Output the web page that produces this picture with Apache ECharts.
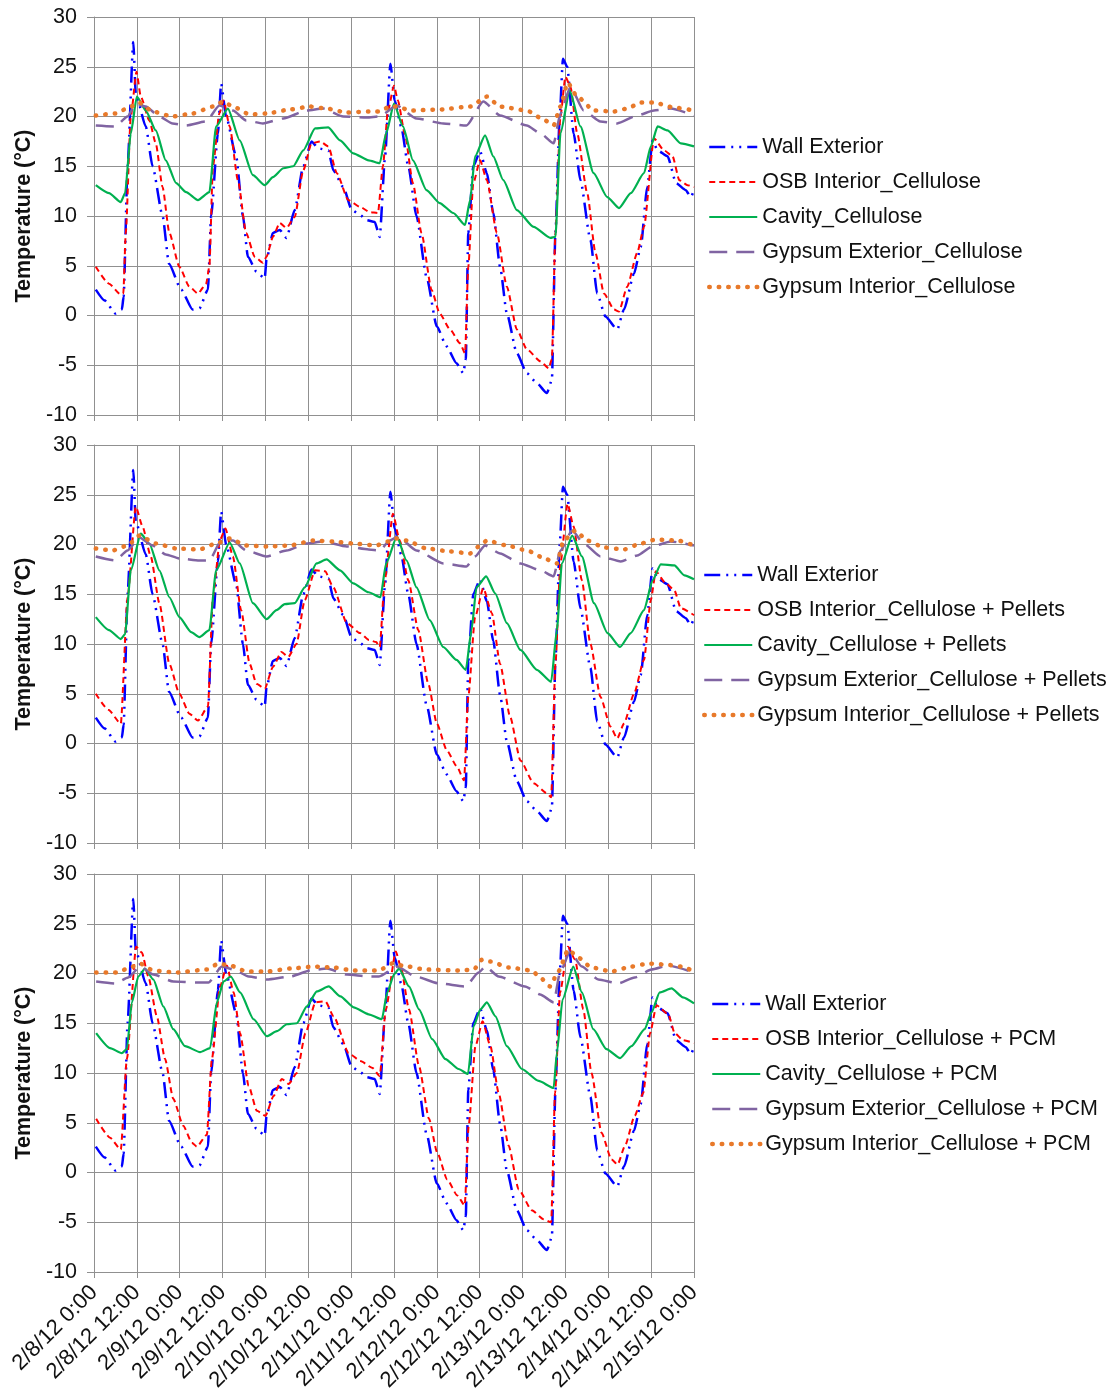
<!DOCTYPE html>
<html>
<head>
<meta charset="utf-8">
<title>Wall temperatures</title>
<script src="https://cdn.jsdelivr.net/npm/echarts@6/dist/echarts.min.js"></script>
<style>
    html, body { margin: 0; padding: 0; background: #fff; }
    #main { width: 1115px; height: 1395px; }
</style>
</head>
<body>
<div id="main"></div>
<script>
// x = hours since 2/8/12 0:00, tick every 12 h
var tickLabels = ['2/8/12 0:00', '2/8/12 12:00', '2/9/12 0:00', '2/9/12 12:00', '2/10/12 0:00',
    '2/10/12 12:00', '2/11/12 0:00', '2/11/12 12:00', '2/12/12 0:00', '2/12/12 12:00',
    '2/13/12 0:00', '2/13/12 12:00', '2/14/12 0:00', '2/14/12 12:00', '2/15/12 0:00'];

// same outdoor surface curve in all three panels
var wallExterior = [[0.5,2.6],[3,1.5],[6,0.2],[7.8,0.6],[8.3,1.9],[9.4,15],[11,27.5],[11.7,22.3],[14.5,19],[16.4,15],[19.2,10],[21,5.2],[24.4,2.6],[27.6,0.6],[29.5,0.7],[31.9,2.6],[32.8,10],[34.7,18.3],[35.6,23.3],[37,20],[39.8,16],[41.7,10],[43.1,5.9],[45.5,4.4],[47.8,3.7],[48.3,5.6],[50.1,8.3],[52,8.6],[53.9,7.8],[56.2,10.6],[58.6,15],[60.9,17.5],[62.8,16.8],[65.6,16.6],[67,14.6],[69.8,12.9],[72.2,10.6],[74.5,10.1],[76.2,9.6],[78.6,9.4],[80,7.9],[81.5,16],[83,25.3],[84.2,21.6],[86,19],[88,15],[90.3,10],[93.1,3.9],[96,-1.1],[98.7,-3.1],[101.5,-4.8],[103.4,-5.8],[104.1,-4.4],[104.8,8.3],[106.2,15],[108.1,16.5],[110,14.3],[111.8,10.3],[113.7,4.9],[115.6,0.2],[118.4,-3.8],[121.2,-5.8],[124,-6.8],[126.8,-7.8],[128.2,-6.5],[129.2,8.3],[130.4,20],[131.3,25.8],[132.5,25],[134.3,18.3],[136.2,13.6],[139,7.6],[140.9,2.2],[143.2,-0.1],[146.5,-1.4],[148.4,0.6],[151.2,4.2],[153.1,6.9],[154.9,12.9],[156.4,17.6],[157.8,16.6],[160.6,16],[163,13.3],[165.7,12.6],[167.1,11.9],[168,12.6]];

// panel 1: cellulose
var osbCell = [[0.5,4.9],[4.2,3.2],[7.5,2.1],[8.2,2.2],[8.9,8.3],[10.3,20],[11.9,24.5],[13.1,22],[15.5,19.6],[17.3,17.3],[19.2,12.9],[21.1,8.3],[23.9,4.9],[26.7,2.9],[29.1,2.2],[31.4,3.2],[32.3,4.9],[33.3,15],[35.1,20.3],[36.3,21.6],[38,19],[40.3,13.6],[42.6,8.3],[45,5.9],[47.3,5.3],[48.3,5.9],[50.1,7.9],[52,9.3],[53.9,8.8],[56.2,9.9],[58.6,14.6],[60.9,17.3],[63.3,17.5],[65.6,17],[68,14.3],[71.2,11.6],[74.5,10.9],[77.2,10.4],[79.5,10.3],[80.9,15],[82.3,20.6],[84,23.1],[85.1,21.6],[87,18.3],[89.3,13.3],[91.7,8.3],[94.5,2.6],[96.8,0.2],[99.7,-1.4],[102.5,-2.8],[103.9,-3.8],[104.8,4.9],[106.2,13.3],[108.1,15.6],[110,13.6],[112.8,8.3],[115.6,2.9],[118.4,-1.4],[121.2,-3.4],[125,-4.6],[127.3,-5.3],[128.2,-4.4],[129.2,8.3],[130.6,20],[132,24],[133.4,23],[135.3,18.3],[138.1,12.3],[140.4,6.3],[142.8,2.2],[145.6,0.6],[147,0.4],[149.3,2.9],[152.1,6.3],[154,8.9],[156.8,17.8],[159.6,16.6],[162,16],[163.9,13.6],[166.2,13.1],[168,12.9]];
var cavCell = [[0.5,13.1],[4.2,12.3],[7.5,11.4],[8.7,12.3],[10.3,18.3],[12,22],[14.5,20.6],[17.3,18.6],[20.1,15.6],[23,13.3],[25.8,12.4],[29.1,11.6],[32.3,12.4],[34.2,19],[37.5,20.8],[40.8,17.6],[44.5,14.1],[47.8,13.1],[50.1,13.9],[53,14.8],[55.8,15],[58.6,16.6],[61.9,18.8],[65.6,18.9],[68.9,17.6],[72.6,16.3],[76.9,15.6],[80,15.3],[81.8,18.3],[84,21.3],[86.5,19],[89.3,15.6],[93.1,12.6],[96.8,11.3],[100.6,10.3],[103.9,9.1],[105.3,11.6],[106.7,16],[109.5,18.1],[111.8,16],[114.6,13.6],[118.4,10.6],[123.1,8.9],[127.8,7.8],[129.2,7.9],[130.6,18.3],[133.2,22.6],[136.2,19],[139.9,14.3],[143.7,11.9],[147,10.8],[150.3,12.3],[154,14.3],[155.9,17],[157.8,19],[160.6,18.6],[164.3,17.3],[168,17]];
var gypExtCell = [[0.5,19.1],[6,19],[9.4,20],[11.7,21.3],[14.5,21],[18.3,20],[22,19.3],[25.8,19.1],[31.4,19.5],[35.1,21.1],[38.9,20.6],[42.6,19.6],[47.3,19.3],[53,19.8],[59.5,20.6],[64.2,20.8],[69.8,20],[76.4,19.9],[80,20],[84.7,21.1],[90.3,19.8],[97.8,19.3],[104.3,19.1],[109,21.5],[113.7,20.1],[121.2,19.1],[125,18.3],[128.7,17.3],[130.6,20.3],[133.4,23],[137.1,20.6],[141.8,19.5],[146.5,19.3],[152.1,20.1],[156.8,20.6],[161.5,20.8],[168,20.1]];
var gypIntCell = [[0.5,20.1],[6,20.3],[9.8,20.9],[12.7,21.4],[16.4,20.5],[22,20],[27.6,20.3],[33.3,21],[36.1,21.5],[38.9,21],[43.6,20.2],[48.3,20.3],[54.8,20.7],[60.5,21],[65.1,20.8],[70.8,20.4],[76.9,20.5],[80,20.5],[82.8,21],[85.1,21],[88.4,20.6],[96.8,20.7],[105.3,21],[110,22],[113.7,21],[121.2,20.6],[125.4,19.8],[128.7,19.1],[130.6,21],[132.6,23.4],[135.3,22],[140,20.6],[145.6,20.5],[149.3,20.8],[153.1,21.4],[156.8,21.4],[162.4,20.9],[168,20.6]];

// panel 2: cellulose + pellets
var osbPel = [[0.5,5],[4,3.4],[7.5,2],[9.4,14.7],[11.7,23.8],[13.6,21.8],[15.9,18.8],[18.3,14.1],[21.1,8],[23.9,5],[26.7,3],[29.1,2.3],[31.9,3.7],[33.3,14.7],[35.3,20.5],[36.8,21.6],[38.9,18.8],[41.2,13.4],[43.6,8],[45.5,6],[47.8,5.5],[50.1,7.7],[52.5,9.2],[54.4,8.7],[56.7,10],[59,14.4],[61.9,17.4],[64.7,17.3],[67,15.7],[70.8,12.1],[74.5,11.1],[77,10.4],[79,10.2],[80,9.7],[81.4,16.4],[83.7,23.1],[85.6,20.4],[88,16.4],[90.8,11.4],[93.6,6],[96,2],[98.8,-0.7],[101.6,-2.3],[103.6,-3.7],[104.8,4.7],[106.7,12.7],[109,15.6],[111.4,13.1],[113.7,8],[116.5,2.7],[119.4,-1.7],[123.1,-4],[126.8,-5],[128,-5.4],[129.2,8],[130.6,18.1],[132.6,24.1],[134.3,21.8],[136.6,16.4],[139,10],[141.8,4.7],[144.6,1.7],[146.5,0.5],[148.4,2],[151.2,5],[154,8.4],[155.9,14.4],[157.3,17.3],[160.1,16.1],[162.5,15.4],[164.3,13.6],[168,12.9]];
var cavPel = [[0.5,12.7],[4.2,11.4],[7.5,10.5],[8.7,11],[10.3,17.4],[13.1,21.1],[15.5,20.1],[18.3,17.4],[21.1,14.7],[23.9,12.7],[27.2,11.2],[29.5,10.7],[32.3,11.4],[34.2,17.4],[38,20.2],[40.8,18.1],[44.5,14.1],[48.3,12.5],[51.1,13.4],[53.4,14],[56.2,14.1],[59,15.7],[62.3,18.1],[65.1,18.5],[68.9,17.4],[72.6,16.1],[76.9,15.2],[80.2,14.7],[81.8,18.1],[84.8,20.8],[87.5,18.4],[90.3,15.7],[94,12.4],[97.8,9.7],[101.5,8.4],[104.1,7.4],[105.7,11.4],[107.1,15.7],[109.8,16.8],[112.3,15.1],[115.6,12.1],[119.4,9.4],[124,7.4],[128,6.2],[129.6,11.4],[131,18.1],[133.9,20.9],[136.6,18.8],[140,14.1],[143.8,11.1],[147.3,9.7],[150.3,11.1],[154,13.4],[156.4,16.4],[158.7,18],[162.5,17.9],[165.3,16.9],[168,16.5]];
var gypExtPel = [[0.5,18.8],[6,18.4],[9.4,19.4],[12.7,20.7],[16.4,19.9],[20.1,19],[23.9,18.6],[29.5,18.4],[32.3,18.4],[35.6,20.4],[38.9,20.4],[42.6,19.4],[48.3,18.8],[53.9,19.4],[59.5,20.1],[64.2,20.3],[70.8,19.8],[76.9,19.5],[80,19.4],[82.8,20.4],[85.1,20.8],[90.3,19.4],[97.8,18.1],[104.3,17.8],[106.7,18.8],[109.5,19.9],[113.7,19.1],[119.4,18.1],[125,17.4],[128.7,16.8],[130.6,19.4],[133.9,21.4],[137.1,20.1],[141.8,18.8],[147.5,18.3],[152.1,18.9],[156.3,19.8],[161.5,20.3],[168,19.9]];
var gypIntPel = [[0.5,19.6],[5.2,19.4],[9.4,19.9],[12.7,20.9],[17.3,20.1],[23,19.6],[29.5,19.5],[34.2,20.1],[38,20.6],[42.6,19.9],[48.3,19.8],[54.8,19.9],[61.4,20.4],[67,20.3],[72.6,20.1],[79,19.9],[82.3,20.3],[84.7,20.6],[87.5,20.4],[93.1,19.6],[99.7,19.3],[105.3,19.1],[108.1,19.9],[110,20.4],[115.6,19.9],[121.2,19.4],[126.8,18.5],[129.6,18.1],[131.5,20.4],[134.8,21.4],[138.1,20.4],[142.8,19.7],[148.4,19.5],[153.1,20.1],[157.3,20.5],[163.4,20.4],[168,19.9]];

// panel 3: cellulose + PCM
var osbPcm = [[0.6,5.4],[4.5,3.5],[7.5,2.3],[9.2,11.4],[11.8,22.7],[13.4,22.1],[15.2,19.7],[17.6,15.7],[19.9,11.4],[22.2,7.4],[25,4.7],[27.4,3],[28.8,2.6],[31.6,3.8],[33,11.4],[35.3,18.7],[37.2,20.8],[39.1,18.1],[40.9,14],[43.3,8.7],[45.6,6.2],[48,5.7],[50.3,7.7],[52.6,9.4],[54.5,8.9],[56.8,10],[59.2,14],[62,17.1],[64.8,17.2],[67.1,15.7],[71.3,12],[74.6,11.2],[78,10.5],[80,9.7],[81.7,16.4],[84.5,22.2],[85.9,20.7],[88.2,16.4],[91,10.7],[93.8,5.4],[96.1,2],[98.9,-0.7],[101.7,-2.3],[103.8,-3.3],[104.9,4.7],[106.8,12.7],[108.8,15.2],[111,12.7],[113.3,8],[116.1,2.7],[118.9,-1.7],[122.6,-3.8],[125.9,-4.7],[128,-5],[129.1,8],[130.5,18.1],[132.7,22.7],[134.7,21.4],[137,16.4],[139.3,10],[142.1,4],[144.9,1.3],[146.6,0.8],[148.7,2.7],[151.4,5.7],[153.8,8],[155.7,14],[157.5,16.8],[160.8,15.9],[162.6,14],[164.9,13.3],[168,13]];
var cavPcm = [[0.6,14],[4.5,12.5],[7.8,12],[9.2,12.4],[10.6,17.1],[12.4,19.7],[14.3,20.5],[16.6,19.4],[19.4,16.7],[22.2,14.4],[25.5,12.7],[29.7,12.1],[32.5,12.5],[34.4,17.1],[36.3,19.2],[38.3,19.7],[40.9,18.1],[44.7,15.4],[48.4,13.7],[51.2,14.2],[54,14.9],[56.8,15],[59.6,16.7],[62.4,18.2],[65.7,18.7],[69,17.7],[72.7,16.6],[76.9,15.9],[80.6,15.4],[82.1,18.1],[84,19.9],[85.4,20.5],[88.2,18.7],[91,16.4],[94.7,13.4],[98.4,11.4],[102.1,10.4],[104.7,9.9],[106.3,14.7],[108.2,16.4],[110,17.1],[112.4,15.7],[115.6,12.7],[119.8,10.4],[124.5,9.2],[128.7,8.5],[129.6,12],[131.2,17.4],[134.2,20.7],[136.6,18.1],[139.8,14.4],[143.5,12.4],[147.3,11.5],[150.5,12.7],[154.2,14.4],[156.1,16.1],[158.4,18.1],[161.7,18.5],[164.9,17.6],[168,17]];
var gypExtPcm = [[0.6,19.2],[5.9,19],[9.6,19.6],[12.9,20.7],[16.6,19.9],[22.2,19.2],[28.8,19.1],[32.1,19.1],[35.8,20.7],[39.1,20.4],[43.3,19.7],[48.4,19.4],[55,19.7],[60.6,20.3],[65.2,20.5],[70.8,19.9],[76.9,19.7],[79.8,19.7],[84.9,20.7],[90,19.7],[96.7,19],[104,18.7],[107.7,20.1],[109.6,20.7],[113.3,19.7],[120.7,18.7],[124.9,17.9],[128.7,17.1],[130.5,20.1],[133.3,22.2],[136.6,20.7],[141.2,19.4],[146.8,19],[151.4,19.6],[156.1,20.4],[160.8,20.8],[168,20.1]];
var gypIntPcm = [[0.6,20.1],[6.4,20.1],[10.1,20.6],[12.9,21],[16.6,20.3],[23.2,20.1],[31.6,20.4],[34.9,21],[38.1,20.8],[42.8,20.2],[48.4,20.2],[55,20.5],[61.5,20.7],[67.1,20.6],[72.7,20.3],[79.8,20.3],[83.5,21],[86.3,20.8],[92.8,20.4],[102.1,20.3],[106.3,20.4],[108.7,21.4],[111,21.2],[116.1,20.6],[122.6,20.3],[124.9,19.6],[127.7,18.7],[130,20.2],[132.8,22.4],[135.6,21.6],[139.3,20.6],[144.9,20.2],[150.5,20.7],[155.2,21],[159.9,20.9],[164.5,20.7],[168,20.2]];

var panelNames = [
    ['Wall Exterior', 'OSB Interior_Cellulose', 'Cavity_Cellulose', 'Gypsum Exterior_Cellulose', 'Gypsum Interior_Cellulose'],
    ['Wall Exterior', 'OSB Interior_Cellulose + Pellets', 'Cavity_Cellulose + Pellets', 'Gypsum Exterior_Cellulose + Pellets', 'Gypsum Interior_Cellulose + Pellets'],
    ['Wall Exterior', 'OSB Interior_Cellulose + PCM', 'Cavity_Cellulose + PCM', 'Gypsum Exterior_Cellulose + PCM', 'Gypsum Interior_Cellulose + PCM']
];
var panelData = [
    [wallExterior, osbCell, cavCell, gypExtCell, gypIntCell],
    [wallExterior, osbPel, cavPel, gypExtPel, gypIntPel],
    [wallExterior, osbPcm, cavPcm, gypExtPcm, gypIntPcm]
];

var FONT = 'Liberation Sans, Arial, sans-serif';
var GRID_COLOR = '#909090';

// line looks, one per series position
var looks = [
    {color: '#0000FF', width: 2.5, type: [16, 6, 2, 6, 2, 6], cap: 'butt'},
    {color: '#FF0000', width: 2, type: [6, 4], cap: 'butt'},
    {color: '#00B050', width: 2.2, type: 'solid', cap: 'butt'},
    {color: '#8064A2', width: 2.5, type: [18, 9], cap: 'butt'},
    {color: '#E8792A', width: 4.5, type: [0.5, 9], cap: 'round'}
];
function lineLook(i) {
    var lk = looks[i];
    return {color: lk.color, width: lk.width, type: lk.type, cap: lk.cap};
}

var gridTops = [17, 445, 874];
var legendTops = [131, 559, 988];
var legendLefts = [702, 697, 705];

var grids = [], xAxes = [], yAxes = [], legends = [], series = [];
gridTops.forEach(function (top, p) {
    grids.push({left: 94, width: 600, top: top, height: 398, outerBoundsMode: 'none'});
    xAxes.push({
        type: 'value', gridIndex: p, min: 0, max: 168, interval: 12,
        axisLine: {show: true, onZero: false, lineStyle: {color: GRID_COLOR}},
        axisTick: {show: true, length: 6, lineStyle: {color: GRID_COLOR}},
        splitLine: {show: true, lineStyle: {color: GRID_COLOR, width: 1}},
        axisLabel: {
            show: p === 2, rotate: 45, margin: 17, fontSize: 22, color: '#111', fontFamily: FONT,
            formatter: function (v) { return tickLabels[Math.round(v / 12)]; }
        }
    });
    yAxes.push({
        type: 'value', gridIndex: p, min: -10, max: 30, interval: 5,
        name: 'Temperature (°C)', nameLocation: 'middle', nameGap: 58,
        nameTextStyle: {fontSize: 21.5, fontWeight: 'bold', color: '#111', fontFamily: FONT},
        axisLine: {show: true, lineStyle: {color: GRID_COLOR}},
        axisTick: {show: true, length: 7, lineStyle: {color: GRID_COLOR}},
        splitLine: {show: true, lineStyle: {color: GRID_COLOR, width: 1}},
        axisLabel: {margin: 17, fontSize: 21.5, color: '#111', fontFamily: FONT}
    });
    legends.push({
        orient: 'vertical', left: legendLefts[p], top: legendTops[p],
        itemWidth: 48, itemHeight: 14, itemGap: 13,
        itemStyle: {color: 'rgba(0,0,0,0)', borderWidth: 0},
        textStyle: {fontSize: 21.5, lineHeight: 22, color: '#111', fontFamily: FONT},
        data: panelNames[p].map(function (name, i) {
            return {name: name, lineStyle: lineLook(i)};
        })
    });
    panelNames[p].forEach(function (name, i) {
        series.push({
            name: name, type: 'line', xAxisIndex: p, yAxisIndex: p,
            data: panelData[p][i], symbol: 'none', smooth: 0.2, smoothMonotone: 'x',
            lineStyle: lineLook(i),
            itemStyle: {color: looks[i].color}
        });
    });
});

var chart = echarts.init(document.getElementById('main'), null, {renderer: 'canvas'});
chart.setOption({
    backgroundColor: '#ffffff',
    animation: false,
    grid: grids,
    xAxis: xAxes,
    yAxis: yAxes,
    legend: legends,
    series: series
});
</script>
</body>
</html>
